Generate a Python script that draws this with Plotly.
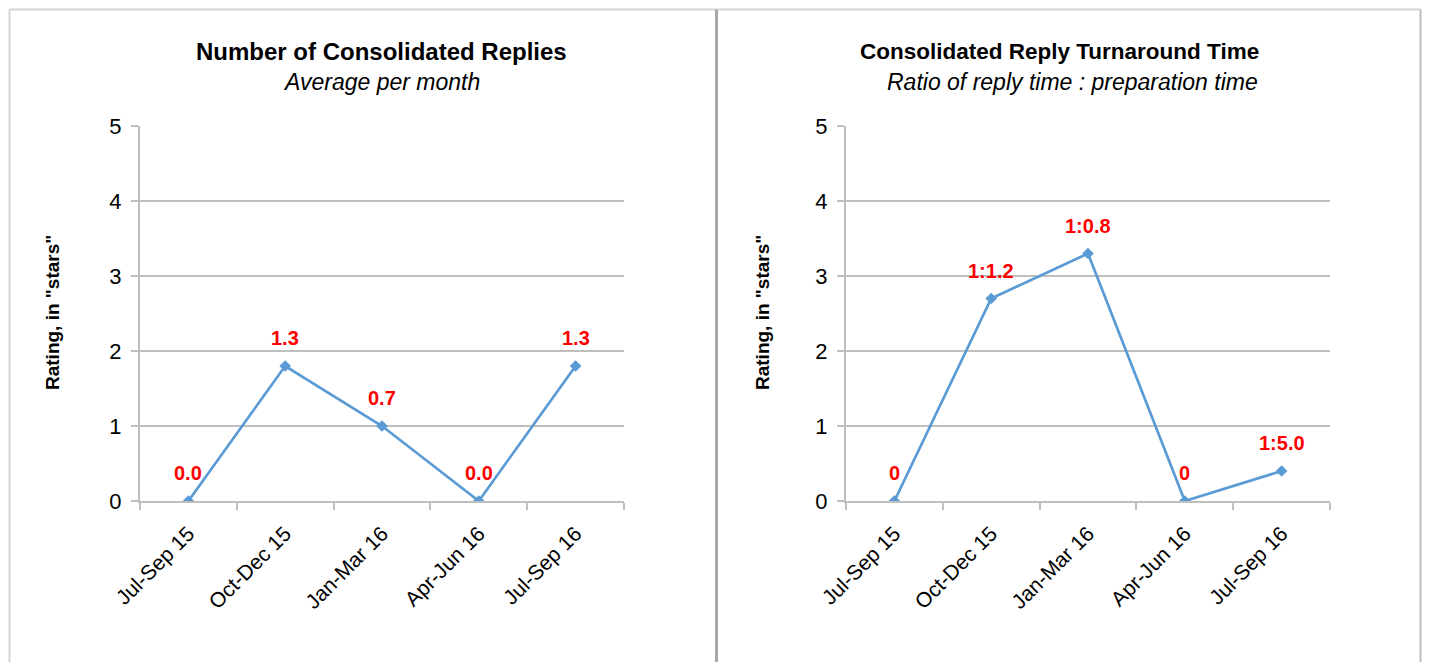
import plotly.graph_objects as go

categories = ["Jul-Sep 15", "Oct-Dec 15", "Jan-Mar 16", "Apr-Jun 16", "Jul-Sep 16"]
replies_rating = [0, 1.8, 1.0, 0, 1.8]
replies_labels = ["0.0", "1.3", "0.7", "0.0", "1.3"]
turnaround_rating = [0, 2.7, 3.3, 0, 0.4]
turnaround_labels = ["0", "1:1.2", "1:0.8", "0", "1:5.0"]
y_ticks = [0, 1, 2, 3, 4, 5]

titles = ["Number of Consolidated Replies", "Consolidated Reply Turnaround Time"]
subtitles = ["Average per month", "Ratio of reply time : preparation time"]
y_title = 'Rating, in "stars"'

OFF = 8  # page body margin offset
W, H = 1430 - OFF, 662 - OFF
BASE = "Liberation Sans, Arial, sans-serif"
LINE = "#5B9BD5"
GRID = "#BFBFBF"


def px(x):
    return (x - OFF) / W


def py(y):
    return 1 - (y - OFF) / H


fig = go.Figure()

panels = [
    dict(vals=replies_rating, labels=replies_labels, x0=140, x1=624, xa="x", ya="y",
         tcx=381, scx=381, ytx=52, tsize=24),
    dict(vals=turnaround_rating, labels=turnaround_labels, x0=846, x1=1330, xa="x2", ya="y2",
         tcx=1059, scx=1072, ytx=762, tsize=22.5),
]

ydom = [py(501), py(126)]

for i, p in enumerate(panels):
    fig.add_trace(go.Scatter(
        x=categories, y=p["vals"], mode="lines+markers",
        line=dict(color=LINE, width=2.7),
        marker=dict(symbol="diamond", size=9, color=LINE),
        xaxis=p["xa"], yaxis=p["ya"], showlegend=False, hoverinfo="skip",
    ))
    for c, v, t in zip(categories, p["vals"], p["labels"]):
        fig.add_annotation(x=c, y=v, text="<b>%s</b>" % t, xref=p["xa"], yref=p["ya"],
                           xanchor="center", yanchor="middle",
                           showarrow=False, yshift=28, font=dict(family=BASE, size=20, color="#FF0000"))
    fig.add_annotation(x=px(p["tcx"]), y=py(52), xref="paper", yref="paper",
                       xanchor="center", yanchor="middle",
                       text="<b>%s</b>" % titles[i], showarrow=False,
                       font=dict(family=BASE, size=p["tsize"], color="#000000"))
    fig.add_annotation(x=px(p["scx"]), y=py(82), xref="paper", yref="paper",
                       xanchor="center", yanchor="middle",
                       text="<i>%s</i>" % subtitles[i], showarrow=False,
                       font=dict(family=BASE, size=23, color="#000000"))
    fig.add_annotation(x=px(p["ytx"]), y=py(313), xref="paper", yref="paper",
                       xanchor="center", yanchor="middle",
                       text="<b>%s</b>" % y_title, showarrow=False, textangle=-90,
                       font=dict(family=BASE, size=19, color="#000000"))

    xkey = "xaxis" if i == 0 else "xaxis2"
    ykey = "yaxis" if i == 0 else "yaxis2"
    fig.update_layout(**{
        xkey: dict(domain=[px(p["x0"]), px(p["x1"])], anchor=p["ya"], type="category",
                   range=[-0.5, 4.5], showgrid=False, showline=True, linecolor=GRID, linewidth=2,
                   ticks="outside", tickson="boundaries", ticklen=7, tickcolor=GRID, tickwidth=2,
                   tickangle=-45, tickfont=dict(family=BASE, size=21, color="#000000"),
                   ticklabelstandoff=10,
                   zeroline=False, fixedrange=True, automargin=False),
        ykey: dict(domain=ydom, anchor=p["xa"], range=[0, 5], tickvals=y_ticks,
                   showgrid=True, gridcolor=GRID, gridwidth=2, showline=True, linecolor=GRID,
                   linewidth=2, ticks="outside", ticklen=7, tickcolor=GRID, tickwidth=2,
                   tickfont=dict(family=BASE, size=22, color="#000000"), zeroline=False,
                   ticklabelstandoff=5,
                   fixedrange=True, automargin=False),
    })

FT, FL, FR = 9.5, 9.5, 1420.5  # frame edges (page px)
shapes = [
    dict(type="line", xref="paper", yref="paper", x0=px(FL), x1=px(FR), y0=py(FT), y1=py(FT),
         line=dict(color="#D3D3D3", width=2)),
    dict(type="line", xref="paper", yref="paper", x0=px(FL), x1=px(FL), y0=0, y1=py(FT),
         line=dict(color="#D3D3D3", width=2)),
    dict(type="line", xref="paper", yref="paper", x0=px(FR), x1=px(FR), y0=0, y1=py(FT),
         line=dict(color="#BDBDBD", width=2)),
    dict(type="line", xref="paper", yref="paper", x0=px(716.5), x1=px(716.5), y0=0, y1=py(FT),
         line=dict(color="#A8A8A8", width=3)),
]

fig.update_layout(width=W, height=H, margin=dict(l=0, r=0, t=0, b=0, autoexpand=False),
                  paper_bgcolor="white", plot_bgcolor="white", shapes=shapes)

fig.write_html("out.html")
